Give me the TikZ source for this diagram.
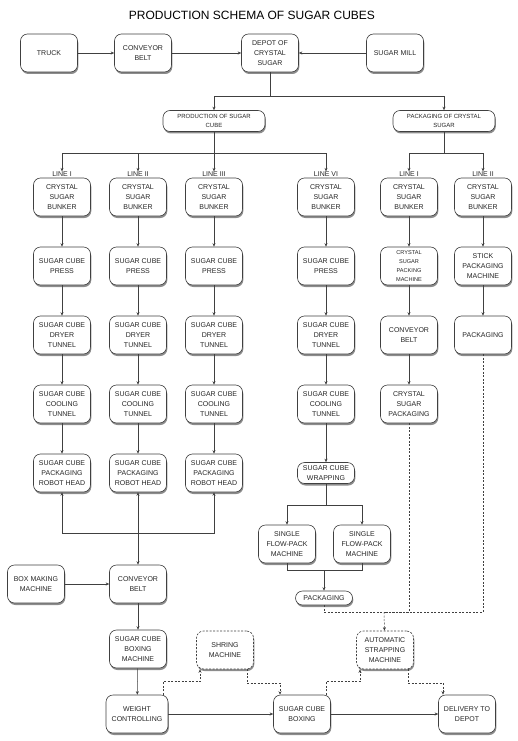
\documentclass[tikz,border=0pt]{standalone}
\usepackage{fontspec}
\setmainfont{Liberation Sans}
\usetikzlibrary{arrows.meta, calc, positioning, shadows}

\begin{document}
\begin{tikzpicture}[x=1pt, y=1pt, node distance=69pt]
            \tikzstyle{box} = [rectangle, draw=black!75, line width=0.6pt, fill=white,
                               rounded corners=7pt, align=center, text=black!85,
                               minimum width=57pt, minimum height=38pt, inner sep=2pt,
                               font=\fontsize{7}{10}\selectfont,
                               drop shadow={shadow xshift=0.8pt, shadow yshift=-2pt,
                                            fill=black, opacity=0.45}]
            \tikzstyle{wide}  = [minimum width=102pt, minimum height=21pt, font=\fontsize{6}{9}\selectfont]
            \tikzstyle{short} = [minimum height=21pt]
            \tikzstyle{tiny}  = [minimum height=14pt]
            \tikzstyle{small} = [font=\fontsize{5.6}{9}\selectfont]
            \tikzstyle{linelbl} = [inner sep=0pt, text=black!85, font=\fontsize{7}{8}\selectfont]
            \tikzstyle{link} = [draw=black!75, line width=0.5pt]
            \tikzstyle{flow} = [link, ->, >={Stealth[length=3.5pt, width=3pt]}]
            \tikzstyle{bflow} = [link, <->, >={Stealth[length=3.5pt, width=3pt]}]
            \tikzstyle{dline} = [link, dash pattern=on 2pt off 1.5pt]
            \tikzstyle{dflow} = [flow, dash pattern=on 2pt off 1.5pt]

            \useasboundingbox (0,0) rectangle (518,-741);

            \node (title) [font=\fontsize{12}{14}\selectfont] at (252,-15) {PRODUCTION SCHEMA OF SUGAR CUBES};

            % supply
            \node (truck) [box] at (49,-53)  {TRUCK};
            \node (belt)  [box] at (143,-53) {CONVEYOR\\BELT};
            \node (depot) [box] at (270,-53) {DEPOT OF\\CRYSTAL\\SUGAR};
            \node (mill)  [box] at (395,-53) {SUGAR MILL};
            \node (prod)  [box, wide] at (214,-121) {PRODUCTION OF SUGAR\\CUBE};
            \node (pack)  [box, wide] at (444,-121) {PACKAGING OF CRYSTAL\\SUGAR};

            \coordinate (j1) at (270,-96);
            \coordinate (j2) at (214,-153);
            \coordinate (j3) at (444,-153);

            \node (lineA) [linelbl] at (62,-174)  {LINE I};
            \node (lineB) [linelbl] at (138,-174) {LINE II};
            \node (lineC) [linelbl] at (214,-174) {LINE III};
            \node (lineD) [linelbl] at (326,-174) {LINE VI};
            \node (lineE) [linelbl] at (409,-174) {LINE I};
            \node (lineF) [linelbl] at (483,-174) {LINE II};

            % sugar cube lines
            \node (bunkA)  [box] at (62,-197) {CRYSTAL\\SUGAR\\BUNKER};
            \node (pressA) [box, below of=bunkA]  {SUGAR CUBE\\PRESS};
            \node (dryA)   [box, below of=pressA] {SUGAR CUBE\\DRYER\\TUNNEL};
            \node (coolA)  [box, below of=dryA]   {SUGAR CUBE\\COOLING\\TUNNEL};
            \node (robotA) [box, below of=coolA]  {SUGAR CUBE\\PACKAGING\\ROBOT HEAD};

            \node (bunkB)  [box] at (138,-197) {CRYSTAL\\SUGAR\\BUNKER};
            \node (pressB) [box, below of=bunkB]  {SUGAR CUBE\\PRESS};
            \node (dryB)   [box, below of=pressB] {SUGAR CUBE\\DRYER\\TUNNEL};
            \node (coolB)  [box, below of=dryB]   {SUGAR CUBE\\COOLING\\TUNNEL};
            \node (robotB) [box, below of=coolB]  {SUGAR CUBE\\PACKAGING\\ROBOT HEAD};

            \node (bunkC)  [box] at (214,-197) {CRYSTAL\\SUGAR\\BUNKER};
            \node (pressC) [box, below of=bunkC]  {SUGAR CUBE\\PRESS};
            \node (dryC)   [box, below of=pressC] {SUGAR CUBE\\DRYER\\TUNNEL};
            \node (coolC)  [box, below of=dryC]   {SUGAR CUBE\\COOLING\\TUNNEL};
            \node (robotC) [box, below of=coolC]  {SUGAR CUBE\\PACKAGING\\ROBOT HEAD};

            \node (bunkD)  [box] at (326,-197) {CRYSTAL\\SUGAR\\BUNKER};
            \node (pressD) [box, below of=bunkD]  {SUGAR CUBE\\PRESS};
            \node (dryD)   [box, below of=pressD] {SUGAR CUBE\\DRYER\\TUNNEL};
            \node (coolD)  [box, below of=dryD]   {SUGAR CUBE\\COOLING\\TUNNEL};
            \node (wrapD)  [box, short, below of=coolD] {SUGAR CUBE\\WRAPPING};
            \node (flowA)  [box] at (287,-544) {SINGLE\\FLOW-PACK\\MACHINE};
            \node (flowB)  [box] at (362,-544) {SINGLE\\FLOW-PACK\\MACHINE};
            \node (packD)  [box, tiny] at (324,-598) {PACKAGING};

            \coordinate (j5) at (326,-505);
            \coordinate (j6) at (324,-570);

            % crystal sugar lines
            \node (bunkE)  [box] at (409,-197) {CRYSTAL\\SUGAR\\BUNKER};
            \node (machE)  [box, small, below of=bunkE] {CRYSTAL\\SUGAR\\PACKING\\MACHINE};
            \node (beltE)  [box, below of=machE]  {CONVEYOR\\BELT};
            \node (cspack) [box, below of=beltE]  {CRYSTAL\\SUGAR\\PACKAGING};

            \node (bunkF)  [box] at (483,-197) {CRYSTAL\\SUGAR\\BUNKER};
            \node (stickF) [box, below of=bunkF]  {STICK\\PACKAGING\\MACHINE};
            \node (packF)  [box, below of=stickF] {PACKAGING};

            \coordinate (j4) at (138,-533);
            \coordinate (j7) at (384,-612);

            % boxing and delivery
            \node (boxmk)   [box] at (36,-584)  {BOX MAKING\\MACHINE};
            \node (cbelt)   [box] at (138,-584) {CONVEYOR\\BELT};
            \node (boxmach) [box] at (138,-649) {SUGAR CUBE\\BOXING\\MACHINE};
            \node (weight)  [box, minimum width=62pt] at (137,-714) {WEIGHT\\CONTROLLING};
            \node (shring)  [box, dash pattern=on 2pt off 1.5pt] at (225,-650) {SHRING\\MACHINE};
            \node (strap)   [box, dash pattern=on 2pt off 1.5pt] at (385,-650) {AUTOMATIC\\STRAPPING\\MACHINE};
            \node (boxing)  [box] at (302,-714) {SUGAR CUBE\\BOXING};
            \node (deliv)   [box] at (467,-714) {DELIVERY TO\\DEPOT};

            \draw [flow] (truck) -- (belt);
            \draw [flow] (belt)  -- (depot);
            \draw [flow] (mill)  -- (depot);
            \draw [link] (depot) -- (j1);
            \draw [flow] (j1) -| (prod);
            \draw [flow] (j1) -| (pack);
            \draw [link] (prod) -- (j2);
            \draw [flow] (j2) -| (lineA);
            \draw [flow] (j2) -| (lineB);
            \draw [flow] (j2) -- (lineC);
            \draw [flow] (j2) -| (lineD);
            \draw [link] (pack) -- (j3);
            \draw [flow] (j3) -| (lineE);
            \draw [flow] (j3) -| (lineF);

            \draw [flow] (bunkA) -- (pressA);
            \draw [flow] (pressA) -- (dryA);
            \draw [flow] (dryA) -- (coolA);
            \draw [flow] (coolA) -- (robotA);
            \draw [flow] (bunkB) -- (pressB);
            \draw [flow] (pressB) -- (dryB);
            \draw [flow] (dryB) -- (coolB);
            \draw [flow] (coolB) -- (robotB);
            \draw [flow] (bunkC) -- (pressC);
            \draw [flow] (pressC) -- (dryC);
            \draw [flow] (dryC) -- (coolC);
            \draw [flow] (coolC) -- (robotC);
            \draw [flow] (bunkD) -- (pressD);
            \draw [flow] (pressD) -- (dryD);
            \draw [flow] (dryD) -- (coolD);
            \draw [flow] (coolD) -- (wrapD);
            \draw [link] (wrapD) -- (j5);
            \draw [flow] (j5) -| (flowA);
            \draw [flow] (j5) -| (flowB);
            \draw [link] (flowA) |- (j6);
            \draw [link] (flowB) |- (j6);
            \draw [flow] (j6) -- (packD);

            \draw [flow] (bunkE) -- (machE);
            \draw [flow] (machE) -- (beltE);
            \draw [flow] (beltE) -- (cspack);
            \draw [flow] (bunkF) -- (stickF);
            \draw [flow] (stickF) -- (packF);

            \draw [bflow] (robotB) -- (cbelt);
            \draw [flow] (j4) -| (robotA);
            \draw [flow] (j4) -| (robotC);
            \draw [flow] (boxmk) -- (cbelt);
            \draw [flow] (cbelt) -- (boxmach);
            \draw [flow] (boxmach) -- (weight);
            \draw [flow] (weight) -- (boxing);
            \draw [flow] (boxing) -- (deliv);

            \draw [dline] (packD) |- (j7);
            \draw [dline] (cspack) |- (j7);
            \draw [dline] (packF) |- (j7);
            \draw [dflow] (j7) -- (strap);
            \draw [dflow] ([xshift=26pt]weight.north) -- ++(0,13pt) -| ([xshift=-25pt]shring.south);
            \draw [dflow] ([xshift=22pt]shring.south) -- ++(0,-14pt) -| ([xshift=-22pt]boxing.north);
            \draw [dflow] ([xshift=24pt]boxing.north) -- ++(0,13pt) -| ([xshift=-25pt]strap.south);
            \draw [dflow] ([xshift=23pt]strap.south) -- ++(0,-14pt) -| ([xshift=-24pt]deliv.north);
        \end{tikzpicture}
\end{document}
